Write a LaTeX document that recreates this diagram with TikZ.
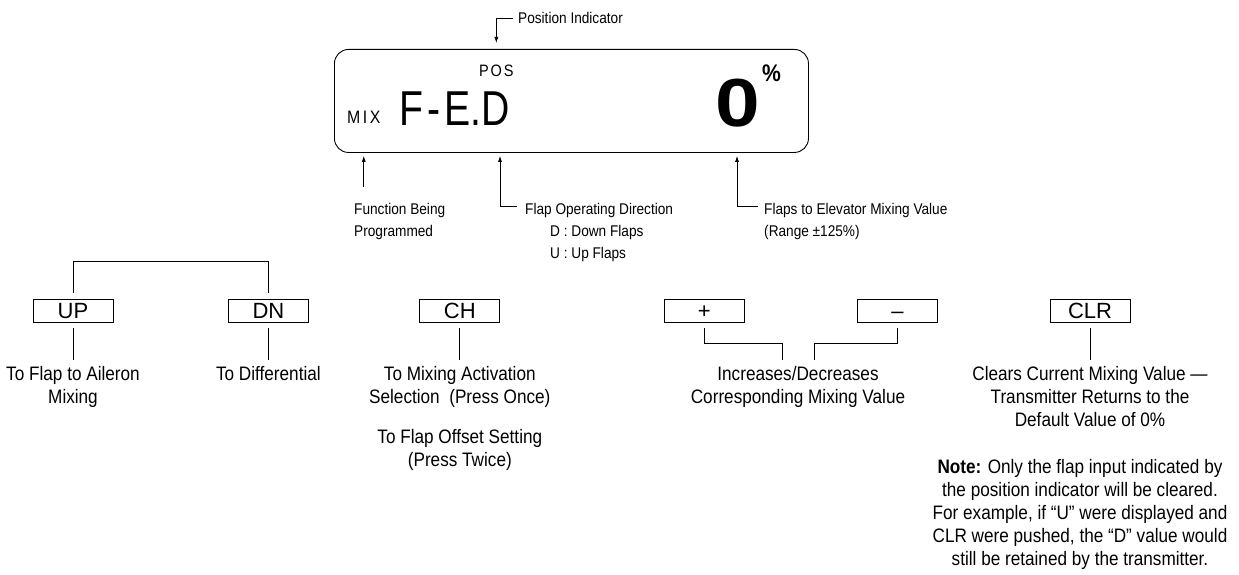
\documentclass[tikz,border=0pt]{standalone}
\usepackage{fontspec}
\setmainfont{Liberation Sans}[FakeStretch=0.88]
\newfontfamily\keyfont{Liberation Sans}
\newfontfamily\lcdfont{Liberation Sans}[FakeStretch=0.8]
\newfontfamily\lcdwide{Liberation Sans}[FakeStretch=1.18]
\usetikzlibrary{positioning, arrows.meta, calc}

\begin{document}
\begin{tikzpicture}[x=1pt, y=-1pt,
    keybox/.style={draw, line width=0.9pt, minimum width=80pt, minimum height=23pt,
        inner sep=0pt, text height=15.8pt, text depth=0pt,
        font=\keyfont\fontsize{22}{22}\selectfont},
    lbl/.style={inner sep=0pt, align=center, anchor=north,
        font=\fontsize{19.5}{23}\selectfont},
    tag/.style={inner sep=0pt, align=left, anchor=north west,
        font=\fontsize{15.5}{22}\selectfont},
    lead/.style={line width=0.7pt},
    pointer/.style={lead, -{Latex[length=6pt, width=4pt]}}
]
\useasboundingbox (0,0) rectangle (1239,575);

% display
\node[draw, rounded corners=14pt, line width=0.9pt, minimum width=474pt,
    minimum height=103pt, inner sep=0pt, anchor=north west] (lcd) at (334,49) {};
\node[inner sep=0pt, anchor=base west, font=\fontsize{18}{18}\selectfont] (mix) at (347,124)
    {M\hspace{2.5pt}I\hspace{2.5pt}X};
\node[inner sep=0pt, anchor=base west, font=\fontsize{16.5}{16.5}\selectfont] (pos) at (479,77)
    {P\hspace{1.8pt}O\hspace{1.8pt}S};
\node[inner sep=0pt, anchor=base west, font=\lcdfont\fontsize{49}{49}\selectfont] (fed) at (399,125)
    {F\hspace{4pt}-\hspace{4pt}E.D};
\node[inner sep=0pt, anchor=base west, font=\lcdwide\bfseries\fontsize{68}{68}\selectfont] (val) at (715,127) {0};
\node[inner sep=0pt, anchor=base west, font=\bfseries\fontsize{24}{24}\selectfont] (pct) at (762,82) {\%};

% display labels
\node[tag, anchor=west] (posind) at (518,18) {Position Indicator};
\node[tag] (func) at (354,203) {Function Being\\Programmed};
\node[tag] (flapdir) at (525,203) {Flap Operating Direction\\
    \hspace*{25pt}D : Down Flaps\\\hspace*{25pt}U : Up Flaps};
\node[tag] (flapval) at (764,203) {Flaps to Elevator Mixing Value\\(Range ±125\%)};

\draw[pointer] ([xshift=-5pt]posind.west) -| ($(pos.north |- lcd.north)+(0,-6)$);
\draw[pointer] ($(mix.south |- func.north)+(0,-16)$) -- ($(mix.south |- lcd.south)+(0,3)$);
\draw[pointer] ($(flapdir.north west)+(-8,3)$) -- ++(-17,0)
    -- ($(flapdir.north west |- lcd.south)+(-25,3)$);
\draw[pointer] ($(flapval.north west)+(-6,3)$) -- ++(-21,0)
    -- ($(flapval.north west |- lcd.south)+(-27,3)$);

% keys
\node[keybox] (up) at (73,310.5) {UP};
\node[keybox, right=114.5pt of up] (dn) {DN};
\node[keybox, right=110.5pt of dn] (ch) {CH};
\node[keybox, right=163.5pt of ch] (plus) {+};
\node[keybox, right=112.5pt of plus] (minus) {\textendash};
\node[keybox, right=111.5pt of minus] (clr) {CLR};

% key descriptions
\node[lbl] (uptxt) at (up.center |- 0,366) {To Flap to Aileron\\Mixing};
\node[lbl] (dntxt) at (dn.center |- 0,366) {To Differential};
\node[lbl] (chtxt) at (ch.center |- 0,366) {To Mixing Activation\\Selection\ \ (Press Once)};
\node[lbl] (chtwice) at (ch.center |- 0,429) {To Flap Offset Setting\\(Press Twice)};
\node[lbl] (pmtxt) at (798,366) {Increases/Decreases\\Corresponding Mixing Value};
\node[lbl] (clrtxt) at (clr.center |- 0,366) {Clears Current Mixing Value —\\
    Transmitter Returns to the\\Default Value of 0\%};
\node[lbl] (note) at (1080,459) {\textbf{Note:} Only the flap input indicated by\\
    the position indicator will be cleared.\\For example, if “U” were displayed and\\
    CLR were pushed, the “D” value would\\still be retained by the transmitter.};

\draw[lead] ([yshift=6pt]up.north) -- ++(0,-31) -| ([yshift=6pt]dn.north);
\draw[lead] ([yshift=-6pt]up.south) -- ([yshift=6pt]uptxt.north);
\draw[lead] ([yshift=-6pt]dn.south) -- ([yshift=6pt]dntxt.north);
\draw[lead] ([yshift=-6pt]ch.south) -- ([yshift=6pt]chtxt.north);
\draw[lead] ([yshift=-6pt]plus.south) |- ($(pmtxt.north)+(-16,-23)$) -- ($(pmtxt.north)+(-16,-6)$);
\draw[lead] ([yshift=-6pt]minus.south) |- ($(pmtxt.north)+(16,-23)$) -- ($(pmtxt.north)+(16,-6)$);
\draw[lead] ([yshift=-6pt]clr.south) -- ([yshift=6pt]clrtxt.north);
\end{tikzpicture}
\end{document}
